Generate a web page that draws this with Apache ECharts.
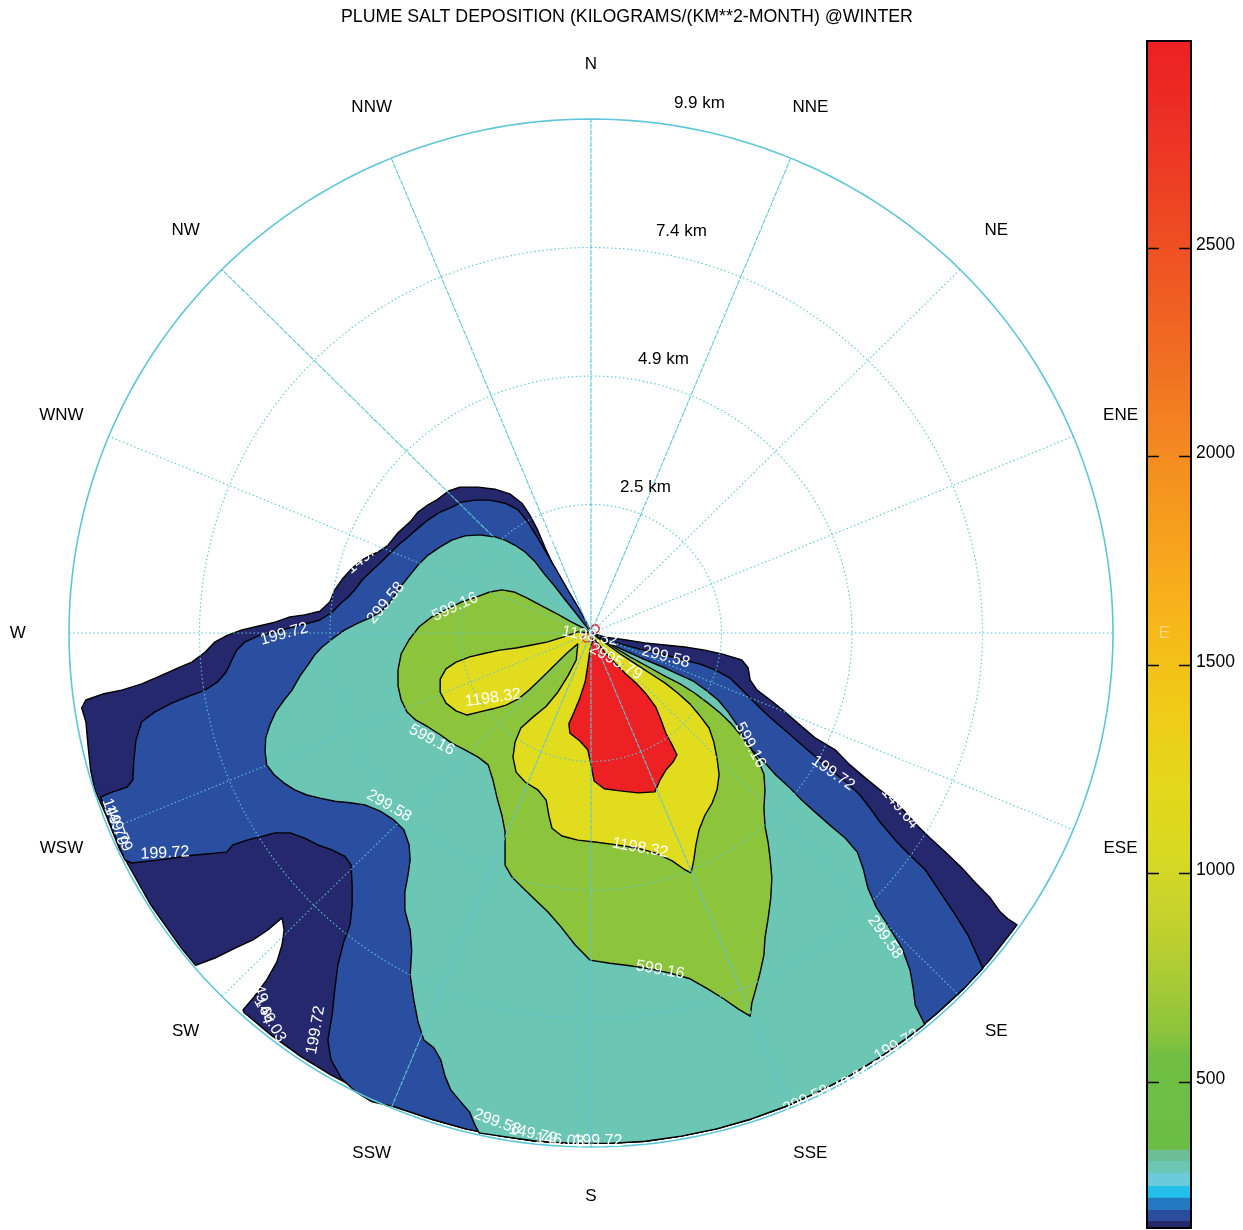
<!DOCTYPE html>
<html><head><meta charset="utf-8">
<script src="https://cdn.jsdelivr.net/npm/echarts@6/dist/echarts.min.js"></script>
<style>html,body{margin:0;padding:0;background:#fff}#c{width:1243px;height:1230px}</style>
</head><body><div id="c"></div>
<script>
// ---------------- DATA ----------------
const TITLE = 'PLUME SALT DEPOSITION (KILOGRAMS/(KM**2-MONTH) @WINTER';
const DIRECTIONS = ['N','NNE','NE','ENE','E','ESE','SE','SSE','S','SSW','SW','WSW','W','WNW','NW','NNW'];
const RING_KM = [2.475, 4.95, 7.425, 9.9];
const RING_LABELS = ['2.5 km','4.9 km','7.4 km','9.9 km'];
const LEVELS = [149.79, 199.72, 299.58, 599.16, 1198.32, 2995.79];
const LEVEL_COLORS = ['#25286c', '#2a4fa0', '#6cc6b4', '#8cc43c', '#e1dc1d', '#ed2024'];
const CBAR_TICKS = [500, 1000, 1500, 2000, 2500];
// discrete low part of colour bar: [from, to, colour]
const CBAR_BANDS = [
  [149.79, 168, '#25296b'], [168, 195, '#2a4c9c'], [195, 224, '#2378c2'], [224, 252, '#22bfea'],
  [252, 284, '#6ccbdb'], [284, 312, '#6cc6b4'], [312, 339, '#6bbe95']
];
// continuous upper part of colour bar: [value, colour]
const CBAR_GRADIENT = [
  [339, '#6cbd45'], [560, '#70be44'], [620, '#8cc43c'], [750, '#aacb35'], [900, '#c6d22c'],
  [1050, '#d8d923'], [1200, '#e3d81c'], [1400, '#f0ca18'], [1600, '#f7b71a'], [1800, '#f7a11d'],
  [2000, '#f48c20'], [2200, '#f17222'], [2400, '#ef5b22'], [2600, '#ee4523'], [2800, '#ec3025'],
  [2995.79, '#ed1f24']
];

// contour outlines, km east / km north of the source
const rimSouth = [
  [-6.58,-7.31],[-6.06,-7.75],[-5.50,-8.16],[-4.92,-8.52],[-4.31,-8.84],[-3.69,-9.12],[-3.04,-9.36],
  [-2.38,-9.55],[-1.71,-9.69],[-1.03,-9.79],[-0.34,-9.83],[0.34,-9.83],[1.03,-9.79],[1.71,-9.69],
  [2.38,-9.55],[3.04,-9.36],[3.69,-9.12],[4.31,-8.84],[4.92,-8.52],[5.50,-8.16],[6.06,-7.75],
  [6.58,-7.31],[7.08,-6.84],[7.54,-6.33],[7.96,-5.78]
];
const navyWest = [
  [0,0],[-0.06,0.15],[-0.21,0.40],[-0.36,0.67],[-0.53,0.96],[-0.72,1.31],[-0.87,1.64],[-1.01,1.98],
  [-1.16,2.27],[-1.31,2.50],[-1.54,2.68],[-1.82,2.77],[-2.14,2.81],[-2.49,2.81],[-2.71,2.73],[-2.90,2.58],
  [-3.09,2.47],[-3.28,2.33],[-3.43,2.14],[-3.66,1.93],[-3.85,1.69],[-4.04,1.56],[-4.29,1.44],[-4.53,1.25],
  [-4.70,1.06],[-4.86,0.83],[-4.95,0.60],[-5.14,0.42],[-5.43,0.35],[-5.71,0.31],[-5.99,0.21],[-6.32,0.13],
  [-6.62,0.06],[-6.89,-0.04],[-7.13,-0.17],[-7.32,-0.37],[-7.57,-0.56],[-7.83,-0.67],[-8.18,-0.83],
  [-8.52,-0.98],[-8.90,-1.10],[-9.24,-1.17],[-9.58,-1.29],[-9.66,-1.44],[-9.58,-1.71],[-9.54,-2.16],
  [-9.49,-2.64],[-9.41,-3.02],[-9.19,-3.53],[-8.94,-4.17],[-8.36,-5.22],[-7.77,-6.07],[-7.50,-6.40],
  [-7.13,-6.26],[-6.75,-6.07],[-6.41,-5.91],[-6.13,-5.72],[-5.86,-5.49],[-5.82,-5.72],[-5.86,-6.01],
  [-5.96,-6.34],[-6.15,-6.68],[-6.39,-7.01],[-6.60,-7.26]
];
const navyEast = [
  [8.08,-5.62],[7.90,-5.50],[7.76,-5.37],[7.57,-5.10],[7.28,-4.80],[7.04,-4.53],[6.72,-4.22],[6.43,-3.95],
  [6.20,-3.72],[5.96,-3.45],[5.73,-3.22],[5.48,-3.02],[5.20,-2.79],[4.91,-2.54],[4.63,-2.25],[4.25,-2.02],
  [3.96,-1.77],[3.68,-1.52],[3.40,-1.29],[3.15,-1.10],[3.02,-0.91],[2.98,-0.67],[2.86,-0.52],[2.54,-0.42],
  [2.16,-0.33],[1.78,-0.27],[1.40,-0.23],[1.02,-0.19],[0.64,-0.13],[0.27,-0.08]
];
const blueWest = [
  [0,0],[-0.11,0.25],[-0.27,0.54],[-0.44,0.83],[-0.63,1.17],[-0.82,1.50],[-1.01,1.83],[-1.20,2.14],
  [-1.38,2.37],[-1.63,2.50],[-1.92,2.56],[-2.20,2.56],[-2.45,2.52],[-2.67,2.41],[-2.86,2.33],[-3.09,2.18],
  [-3.28,2.02],[-3.47,1.85],[-3.66,1.69],[-3.81,1.54],[-4.00,1.35],[-4.19,1.17],[-4.34,1.02],[-4.48,0.83],
  [-4.61,0.69],[-4.76,0.56],[-4.91,0.40],[-5.14,0.25],[-5.43,0.17],[-5.71,0.10],[-5.99,0.02],[-6.32,-0.06],
  [-6.56,-0.17],[-6.72,-0.33],[-6.81,-0.52],[-6.92,-0.75],[-7.08,-0.94],[-7.32,-1.10],[-7.61,-1.21],
  [-7.95,-1.35],[-8.27,-1.52],[-8.52,-1.71],[-8.63,-2.06],[-8.67,-2.45],[-8.69,-2.83],[-8.80,-2.97],
  [-9.12,-3.08],[-9.30,-3.16],[-9.06,-3.84],[-8.84,-4.37],[-8.71,-4.43],[-8.18,-4.37],[-7.55,-4.28],
  [-6.91,-4.22],[-6.79,-4.08],[-6.53,-3.99],[-6.28,-3.93],[-5.99,-3.85],[-5.71,-3.85],[-5.43,-3.95],
  [-5.18,-4.08],[-4.91,-4.18],[-4.67,-4.30],[-4.55,-4.47],[-4.53,-4.85],[-4.53,-5.24],[-4.57,-5.62],
  [-4.69,-5.95],[-4.80,-6.39],[-4.86,-6.88],[-4.91,-7.36],[-4.99,-7.84],[-4.93,-8.22],[-4.74,-8.57],
  [-4.46,-8.84],[-4.15,-9.03],[-3.78,-9.11]
];
const blueEast = [
  [7.43,-6.46],[7.38,-6.34],[7.28,-6.11],[7.15,-5.82],[6.91,-5.43],[6.72,-5.14],[6.53,-4.85],[6.34,-4.56],
  [6.05,-4.28],[5.77,-3.99],[5.48,-3.64],[5.29,-3.37],[5.10,-3.12],[4.88,-2.91],[4.63,-2.70],[4.34,-2.45],
  [4.06,-2.21],[3.78,-1.96],[3.49,-1.71],[3.24,-1.48],[3.02,-1.25],[2.83,-1.06],[2.64,-0.87],[2.35,-0.71],
  [2.07,-0.60],[1.69,-0.50],[1.31,-0.40],[0.93,-0.31],[0.55,-0.21],[0.23,-0.10]
];
const tealWest = [
  [0,0],[-0.11,0.15],[-0.30,0.40],[-0.49,0.64],[-0.68,0.89],[-0.87,1.12],[-1.06,1.37],[-1.25,1.56],
  [-1.44,1.69],[-1.63,1.79],[-1.82,1.85],[-2.11,1.89],[-2.39,1.87],[-2.64,1.79],[-2.86,1.66],[-3.09,1.50],
  [-3.28,1.31],[-3.43,1.12],[-3.59,0.92],[-3.72,0.73],[-3.85,0.54],[-4.00,0.40],[-4.19,0.29],[-4.42,0.19],
  [-4.67,0.06],[-4.89,-0.10],[-5.10,-0.27],[-5.24,-0.42],[-5.37,-0.62],[-5.52,-0.83],[-5.67,-1.10],
  [-5.82,-1.29],[-5.98,-1.52],[-6.09,-1.77],[-6.17,-2.02],[-6.18,-2.29],[-6.15,-2.54],[-6.01,-2.73],
  [-5.82,-2.89],[-5.62,-3.02],[-5.39,-3.12],[-5.14,-3.18],[-4.86,-3.24],[-4.57,-3.27],[-4.29,-3.31],
  [-4.00,-3.43],[-3.74,-3.60],[-3.55,-3.79],[-3.45,-4.08],[-3.43,-4.37],[-3.47,-4.66],[-3.53,-4.99],
  [-3.53,-5.34],[-3.43,-5.72],[-3.40,-6.11],[-3.43,-6.59],[-3.36,-7.07],[-3.28,-7.49],[-3.17,-7.84],
  [-2.98,-7.99],[-2.85,-8.22],[-2.77,-8.53],[-2.66,-8.80],[-2.47,-9.03],[-2.30,-9.23],[-2.20,-9.48],[-2.12,-9.63]
];
const tealEast = [
  [6.33,-7.54],[6.15,-7.17],[6.11,-6.84],[6.05,-6.49],[5.90,-6.07],[5.65,-5.66],[5.41,-5.28],[5.25,-4.91],
  [5.16,-4.53],[5.05,-4.22],[4.82,-3.95],[4.53,-3.70],[4.25,-3.45],[4.00,-3.22],[3.78,-2.99],[3.51,-2.74],
  [3.28,-2.48],[3.05,-2.25],[2.90,-2.02],[2.77,-1.77],[2.60,-1.52],[2.41,-1.29],[2.18,-1.10],[1.93,-0.92],
  [1.65,-0.79],[1.35,-0.65],[1.04,-0.52],[0.70,-0.37],[0.36,-0.21]
];
const greenOutline = [
  [0,0],[-0.15,0.10],[-0.40,0.23],[-0.68,0.39],[-0.97,0.54],[-1.21,0.67],[-1.46,0.79],[-1.69,0.83],
  [-1.92,0.79],[-2.18,0.69],[-2.45,0.60],[-2.73,0.46],[-3.02,0.31],[-3.26,0.12],[-3.45,-0.13],[-3.60,-0.40],
  [-3.66,-0.71],[-3.66,-1.02],[-3.60,-1.29],[-3.49,-1.52],[-3.32,-1.68],[-3.09,-1.81],[-2.86,-1.96],
  [-2.64,-2.12],[-2.39,-2.25],[-2.14,-2.39],[-1.95,-2.54],[-1.86,-2.83],[-1.78,-3.18],[-1.69,-3.51],
  [-1.63,-3.83],[-1.63,-4.18],[-1.63,-4.47],[-1.50,-4.70],[-1.29,-4.91],[-1.06,-5.14],[-0.82,-5.37],
  [-0.57,-5.66],[-0.30,-6.01],[-0.02,-6.30],[0.36,-6.36],[0.74,-6.41],[1.12,-6.47],[1.50,-6.55],
  [1.88,-6.66],[2.22,-6.86],[2.52,-7.05],[2.79,-7.24],[3.02,-7.38],[3.05,-7.13],[3.13,-6.84],[3.21,-6.53],
  [3.28,-6.20],[3.30,-5.87],[3.36,-5.49],[3.41,-5.10],[3.43,-4.72],[3.40,-4.37],[3.36,-4.04],[3.30,-3.72],
  [3.28,-3.37],[3.30,-3.02],[3.28,-2.72],[3.17,-2.45],[3.02,-2.21],[2.85,-1.98],[2.66,-1.75],[2.45,-1.54],
  [2.22,-1.35],[1.97,-1.16],[1.69,-0.98],[1.40,-0.83],[1.08,-0.65],[0.74,-0.46],[0.40,-0.25]
];
const yellowOutline = [
  [0,0],[-0.25,0.02],[-0.53,-0.08],[-0.82,-0.17],[-1.12,-0.23],[-1.42,-0.29],[-1.73,-0.33],[-2.01,-0.39],
  [-2.30,-0.46],[-2.56,-0.56],[-2.75,-0.69],[-2.86,-0.89],[-2.86,-1.14],[-2.75,-1.35],[-2.56,-1.50],
  [-2.35,-1.58],[-2.11,-1.52],[-1.86,-1.46],[-1.61,-1.39],[-1.38,-1.27],[-1.20,-1.12],[-1.01,-0.94],
  [-0.82,-0.75],[-0.63,-0.56],[-0.44,-0.37],[-0.25,-0.21],[-0.28,-0.52],[-0.44,-0.83],[-0.63,-1.14],
  [-0.85,-1.41],[-1.10,-1.62],[-1.33,-1.83],[-1.44,-2.10],[-1.48,-2.39],[-1.42,-2.68],[-1.25,-2.87],
  [-1.01,-3.02],[-0.85,-3.22],[-0.80,-3.51],[-0.74,-3.76],[-0.55,-3.91],[-0.25,-3.99],[0.11,-4.03],
  [0.49,-4.08],[0.87,-4.14],[1.23,-4.24],[1.54,-4.39],[1.78,-4.56],[1.90,-4.62],[1.95,-4.37],[1.99,-4.08],
  [2.05,-3.79],[2.16,-3.51],[2.30,-3.27],[2.39,-3.02],[2.43,-2.73],[2.39,-2.41],[2.33,-2.10],[2.24,-1.83],
  [2.07,-1.60],[1.88,-1.37],[1.65,-1.16],[1.40,-0.96],[1.14,-0.79],[0.85,-0.60],[0.55,-0.40],[0.27,-0.19]
];
const redOutline = [
  [0.04,-0.10],[-0.02,-0.33],[-0.06,-0.62],[-0.11,-0.94],[-0.21,-1.25],[-0.32,-1.52],[-0.42,-1.75],
  [-0.40,-1.93],[-0.21,-2.08],[-0.06,-2.25],[0.00,-2.54],[0.06,-2.85],[0.25,-3.00],[0.55,-3.04],
  [0.89,-3.08],[1.21,-3.06],[1.31,-2.83],[1.42,-2.64],[1.56,-2.48],[1.63,-2.35],[1.54,-2.16],[1.42,-1.93],
  [1.33,-1.68],[1.23,-1.43],[1.06,-1.19],[0.87,-0.98],[0.66,-0.79],[0.46,-0.58],[0.25,-0.35],[0.11,-0.17]
];
const redSpots = [[0.08, 0.08], [-0.08, -0.10]];

// contour labels: [text, km east, km north, rotation deg]
const CONTOUR_LABELS = [
  ['199.72', -5.82, -0.02, 15], ['299.58', -3.89, 0.58, 50], ['599.16', -2.58, 0.50, 25],
  ['149.79', -4.25, 1.50, 40], ['199.72', -0.66, 1.79, -60], ['1198.32', -1.86, -1.25, 8],
  ['599.16', -3.02, -2.06, -28], ['299.58', -3.83, -3.33, -30], ['199.72', -8.08, -4.24, 3],
  ['149.79', -9.03, -3.64, -70], ['149.79', -8.97, -3.76, -66], ['1198.32', 0.93, -4.14, -10],
  ['599.16', 1.31, -6.49, -10], ['599.16', 3.02, -2.16, -62], ['299.58', 1.42, -0.46, -15],
  ['2995.79', 0.47, -0.55, -30], ['199.72', 4.59, -2.70, -35], ['149.64', 5.86, -3.37, -50],
  ['299.58', 5.58, -5.86, -55], ['149.64', -6.24, -7.07, -75], ['146.03', -6.09, -7.45, -60],
  ['199.72', -5.22, -7.65, 80], ['299.58', -1.78, -9.42, -20], ['149.79', -1.10, -9.65, -12],
  ['146.03', -0.59, -9.77, -5], ['199.72', 0.13, -9.80, 0], ['299.58', 4.08, -8.99, 25],
  ['149.64', 4.88, -8.65, 30], ['146.03', 5.25, -8.46, 30], ['199.72', 5.80, -7.94, 30],
  ['1198.32', -0.02, -0.06, -10]
];

// ---------------- BUILD ----------------
const navyPoly = navyWest.concat(rimSouth, navyEast);
const bluePoly = blueWest.concat(rimSouth.slice(6, 23), blueEast);
const tealPoly = tealWest.concat(rimSouth.slice(8, 21), tealEast);
const REGIONS = [navyPoly, bluePoly, tealPoly, greenOutline, yellowOutline, redOutline];

const FONT = 'Liberation Sans, Arial, Helvetica, sans-serif';
const FRAME = '#5ec6d6';
const NEAR_SOLID = { N: 1, NNE: 1, NNW: 1, NW: 1, S: 1, SSE: 1, SSW: 1 };

function polySeries(idx) {
  return {
    type: 'custom', coordinateSystem: 'cartesian2d', xAxisIndex: 0, yAxisIndex: 0,
    z: 2 + idx * 0.1, clip: false, silent: true, data: [[0, 0]],
    renderItem(params, api) {
      return {
        type: 'polygon',
        shape: { points: REGIONS[idx].map(p => api.coord(p)) },
        style: { fill: LEVEL_COLORS[idx], stroke: '#000', lineWidth: 1.4, lineJoin: 'round' }
      };
    }
  };
}

const series = [];
for (let i = 0; i < REGIONS.length; i++) series.push(polySeries(i));

// small red rings at the source
series.push({
  type: 'custom', coordinateSystem: 'cartesian2d', z: 2.8, clip: false, silent: true,
  data: redSpots,
  renderItem(params, api) {
    const c = api.coord([api.value(0), api.value(1)]);
    return { type: 'circle', shape: { cx: c[0], cy: c[1], r: 4 }, style: { fill: 'none', stroke: '#ed2024', lineWidth: 1.6 } };
  }
});

// polar frame, compass and ring labels
series.push({
  type: 'custom', coordinateSystem: 'cartesian2d', z: 5, clip: false, silent: true, data: [[0, 0]],
  renderItem(params, api) {
    const ch = [];
    RING_KM.forEach((r, k) => {
      const pts = [];
      for (let i = 0; i <= 240; i++) {
        const a = i / 240 * 2 * Math.PI;
        pts.push(api.coord([r * Math.sin(a), r * Math.cos(a)]));
      }
      const outer = k === RING_KM.length - 1;
      ch.push({ type: 'polyline', shape: { points: pts },
        style: { fill: 'none', stroke: FRAME, lineWidth: outer ? 1.6 : 1.1, lineDash: outer ? null : [1.5, 2.5] } });
    });
    const rMax = RING_KM[RING_KM.length - 1];
    const c0 = api.coord([0, 0]);
    DIRECTIONS.forEach((d, i) => {
      const a = i * 22.5 * Math.PI / 180;
      const e = api.coord([rMax * Math.sin(a), rMax * Math.cos(a)]);
      ch.push({ type: 'line', shape: { x1: c0[0], y1: c0[1], x2: e[0], y2: e[1] },
        style: { stroke: FRAME, lineWidth: 1.1, lineDash: NEAR_SOLID[d] ? [5, 1] : [1.5, 2.5] } });
      const cy = Math.cos(a);
      const t = api.coord([10.87 * Math.sin(a), (cy > 0 ? 10.96 : 10.85) * cy]);
      ch.push({ type: 'text', x: t[0], y: t[1], z2: 10,
        style: { text: d, fill: d === 'E' ? 'rgba(255,235,190,0.55)' : '#000', fontSize: 17, fontFamily: FONT,
                 align: 'center', verticalAlign: 'middle' } });
    });
    RING_KM.forEach((r, k) => {
      const p = api.coord([0.69 + 0.138 * r, r + 0.34 - 0.004 * r]);
      ch.push({ type: 'text', x: p[0], y: p[1],
        style: { text: RING_LABELS[k], fill: '#000', fontSize: 17, fontFamily: FONT, align: 'center', verticalAlign: 'middle' } });
    });
    return { type: 'group', children: ch };
  }
});

// contour labels
series.push({
  type: 'custom', coordinateSystem: 'cartesian2d', z: 6, clip: false, silent: true,
  data: CONTOUR_LABELS.map((l, i) => [l[1], l[2], i]),
  renderItem(params, api) {
    const l = CONTOUR_LABELS[api.value(2)];
    const p = api.coord([api.value(0), api.value(1)]);
    return { type: 'text', x: p[0], y: p[1], rotation: l[3] * Math.PI / 180,
      style: { text: l[0], fill: '#fff', fontSize: 16, fontFamily: FONT, align: 'center', verticalAlign: 'middle' } };
  }
});

// colour bar with ticks and labels
series.push({
  type: 'custom', coordinateSystem: 'cartesian2d', xAxisIndex: 1, yAxisIndex: 1, z: 4, clip: false, silent: true,
  data: [[0, LEVELS[0]]],
  renderItem(params, api) {
    const ch = [];
    const x0 = api.coord([0, LEVELS[0]])[0], x1 = api.coord([1, LEVELS[0]])[0];
    CBAR_BANDS.forEach(b => {
      const yT = api.coord([0, b[1]])[1], yB = api.coord([0, b[0]])[1];
      ch.push({ type: 'rect', shape: { x: x0, y: yT, width: x1 - x0, height: yB - yT + 0.6 }, style: { fill: b[2] } });
    });
    const gLo = CBAR_GRADIENT[0][0], gHi = CBAR_GRADIENT[CBAR_GRADIENT.length - 1][0];
    const yT = api.coord([0, gHi])[1], yB = api.coord([0, gLo])[1];
    ch.push({ type: 'rect', shape: { x: x0, y: yT, width: x1 - x0, height: yB - yT + 0.6 },
      style: { fill: { type: 'linear', x: 0, y: 0, x2: 0, y2: 1,
        colorStops: CBAR_GRADIENT.map(g => ({ offset: (gHi - g[0]) / (gHi - gLo), color: g[1] })).reverse() } } });
    const yTop = api.coord([0, LEVELS[LEVELS.length - 1]])[1], yBot = api.coord([0, LEVELS[0]])[1];
    ch.push({ type: 'rect', shape: { x: x0, y: yTop, width: x1 - x0, height: yBot - yTop },
      style: { fill: 'none', stroke: '#000', lineWidth: 2 } });
    CBAR_TICKS.forEach(v => {
      const y = Math.round(api.coord([0, v])[1]) + 0.5;
      ch.push({ type: 'line', shape: { x1: x0, y1: y, x2: x0 + 12, y2: y }, style: { stroke: '#000', lineWidth: 1.5 } });
      ch.push({ type: 'line', shape: { x1: x1 - 12, y1: y, x2: x1, y2: y }, style: { stroke: '#000', lineWidth: 1.5 } });
      ch.push({ type: 'text', x: x1 + 5, y: y - 3,
        style: { text: String(v), fill: '#000', fontSize: 17.5, fontFamily: FONT, align: 'left', verticalAlign: 'middle' } });
    });
    return { type: 'group', children: ch };
  }
});

const chart = echarts.init(document.getElementById('c'), null, { renderer: 'canvas' });
chart.setOption({
  animation: false,
  backgroundColor: '#fff',
  title: { text: TITLE, left: 336, top: 3,
    textStyle: { fontSize: 17.8, fontWeight: 'normal', fontFamily: FONT, color: '#000' } },
  grid: [
    { left: 69, top: 119, width: 1044, height: 1028, show: false },
    { left: 1147, top: 41, width: 44, height: 1187, show: false }
  ],
  xAxis: [
    { type: 'value', gridIndex: 0, min: -9.9, max: 9.9, show: false },
    { type: 'value', gridIndex: 1, min: 0, max: 1, show: false }
  ],
  yAxis: [
    { type: 'value', gridIndex: 0, min: -9.9, max: 9.9, show: false },
    { type: 'value', gridIndex: 1, min: LEVELS[0], max: LEVELS[LEVELS.length - 1], show: false }
  ],
  series: series
});
</script>
</body></html>
